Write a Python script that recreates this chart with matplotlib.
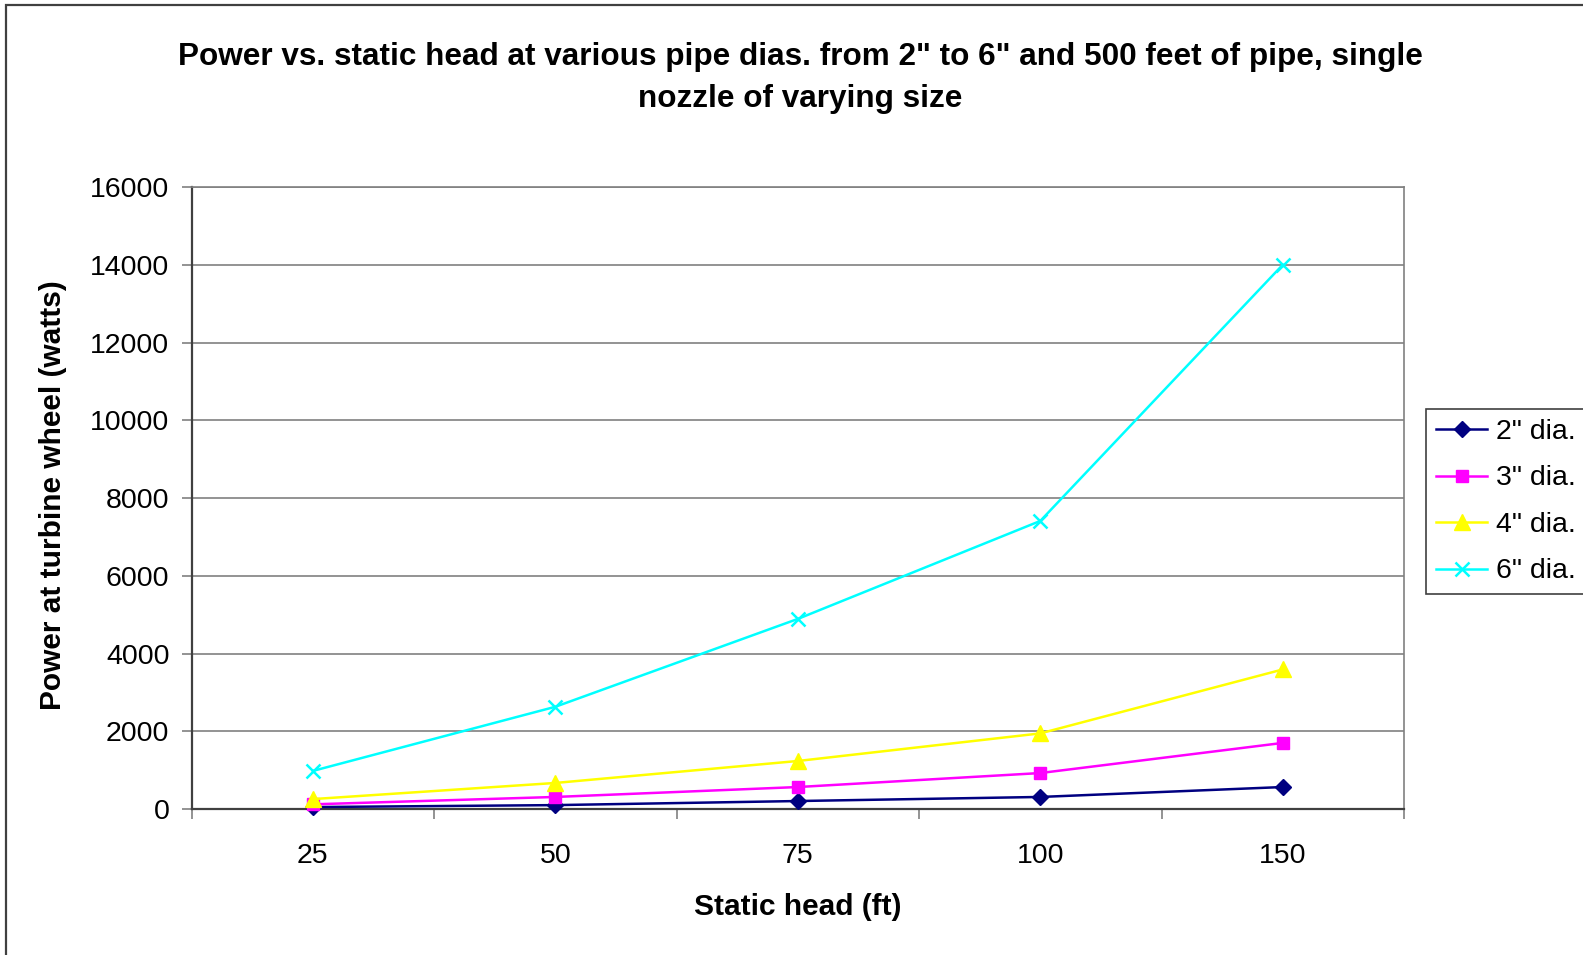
import matplotlib
matplotlib.use("Agg")
import matplotlib.pyplot as plt
from matplotlib.patches import Rectangle

plt.rcParams['font.family'] = ['Liberation Sans', 'DejaVu Sans']

categories = ["25", "50", "75", "100", "150"]
series_names = ['2" dia.', '3" dia.', '4" dia.', '6" dia.']
dia2 = [50, 100, 205, 310, 565]
dia3 = [120, 310, 565, 925, 1700]
dia4 = [255, 670, 1235, 1945, 3590]
dia6 = [980, 2630, 4890, 7410, 14000]
y_ticks = [0, 2000, 4000, 6000, 8000, 10000, 12000, 14000, 16000]

W, H = 1583, 955
fig = plt.figure(figsize=(W / 100, H / 100), dpi=100)
fig.patch.set_facecolor('white')

# outer chart border
fig.add_artist(Rectangle((6 / W, -0.05), 1.2, 1 - 5 / H + 0.05, transform=fig.transFigure,
                         fill=False, edgecolor='#404040', linewidth=1.6))

ax = fig.add_axes([191.7 / W, 1 - 809 / H, (1404 - 191.7) / W, (809 - 187) / H])

x = list(range(len(categories)))
styles = [
    dict(color='#000080', marker='D', markersize=8, markerfacecolor='#000080', markeredgecolor='#000080'),
    dict(color='#FF00FF', marker='s', markersize=9, markerfacecolor='#FF00FF', markeredgecolor='#FF00FF'),
    dict(color='#FFFF00', marker='^', markersize=11, markerfacecolor='#FFFF00', markeredgecolor='#FFFF00'),
    dict(color='#00FFFF', marker='x', markersize=9.5, markeredgewidth=1.8, markeredgecolor='#00FFFF'),
]
for vals, name, st in zip([dia2, dia3, dia4, dia6], series_names, styles):
    ax.plot(x, vals, linewidth=1.8, label=name, zorder=3, clip_on=False, **st)

ax.set_xlim(-0.5, len(categories) - 0.5)
ax.set_ylim(0, 16000)
ax.set_yticks(y_ticks)
ax.set_yticklabels([str(v) for v in y_ticks], fontsize=20.5)
ax.yaxis.grid(True, color='#808080', linewidth=1.2)
ax.set_axisbelow(True)

ax.set_xticks([i - 0.5 for i in range(len(categories) + 1)])
ax.set_xticklabels([])
ax.set_xticks(x, minor=True)
ax.set_xticklabels(categories, minor=True, fontsize=20.5)
ax.tick_params(axis='x', which='minor', length=0, pad=24.5)
ax.tick_params(axis='x', which='major', length=7, width=1.2, color='#808080', direction='out')
ax.tick_params(axis='y', length=7, width=1.2, color='#808080', direction='out', pad=9)

for s in ['top', 'right']:
    ax.spines[s].set_color('#808080')
    ax.spines[s].set_linewidth(1.2)
for s in ['left', 'bottom']:
    ax.spines[s].set_color('#404040')
    ax.spines[s].set_linewidth(1.6)

fig.text(800 / W, 1 - 78 / H,
         'Power vs. static head at various pipe dias. from 2" to 6" and 500 feet of pipe, single\nnozzle of varying size',
         ha='center', va='center', fontsize=22.7, fontweight='bold', linespacing=1.53)
fig.text(798 / W, 1 - 907 / H, 'Static head (ft)', ha='center', va='center', fontsize=21.5, fontweight='bold')
fig.text(53.5 / W, 1 - 495 / H, 'Power at turbine wheel (watts)', ha='center', va='center',
         rotation=90, fontsize=21.5, fontweight='bold')

leg = ax.legend(loc='upper left', bbox_to_anchor=(1426 / W, 1 - 409 / H), bbox_transform=fig.transFigure,
                fontsize=20.5, frameon=True, fancybox=False, edgecolor='#404040', framealpha=1,
                handlelength=1.8, handletextpad=0.3, labelspacing=0.72, borderpad=0.35,
                borderaxespad=0, markerscale=1.0)
leg.get_frame().set_linewidth(1.2)

fig.savefig('out.png', dpi=100)
